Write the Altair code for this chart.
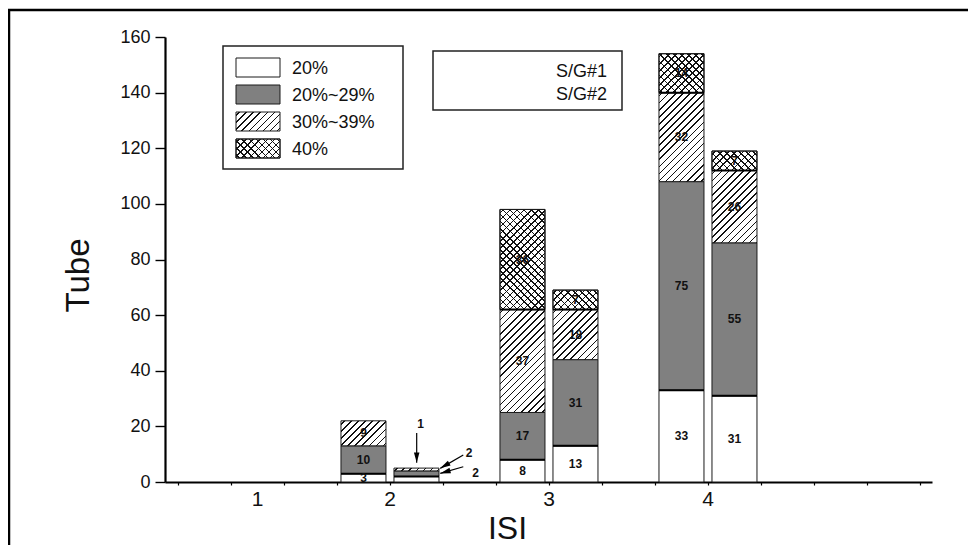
import math
import altair as alt

# ---------------- data ----------------
ISI_LEVELS = [2, 2, 3, 3, 4, 4]
SERIES = ["S/G#1", "S/G#2", "S/G#1", "S/G#2", "S/G#1", "S/G#2"]
CATEGORIES = ["20%", "20%~29%", "30%~39%", "40%"]
V_20 = [3, 2, 8, 13, 33, 31]
V_20_29 = [10, 2, 17, 31, 75, 55]
V_30_39 = [9, 1, 37, 18, 32, 26]
V_40 = [0, 0, 36, 7, 14, 7]
Y_TICKS = list(range(0, 161, 10))
X_TICK_LABELS = ["1", "2", "3", "4"]
X_LABEL_SIXTHS = [7, 12, 18, 24]   # tick (in sixths of a unit) under which each label sits
SERIES_NAMES = ["S/G#1", "S/G#2"]
# callouts for the small ISI 2 / S/G#2 bar
NOTE_TEXT = ["1", "2", "2"]
NOTE_TX = [2.193, 2.497, 2.539]
NOTE_TY = [20.7, 10.5, 3.1]
NOTE_AX0 = [2.168, 2.461, 2.461]
NOTE_AY0 = [17.6, 9.7, 5.5]
NOTE_AX1 = [2.168, 2.316, 2.316]
NOTE_AY1 = [6.9, 4.9, 3.1]
NOTE_ANGLE = [180, 240, 254]

# ---------------- layout / style ----------------
FONT = "Liberation Sans"
W, H = 767, 445
XDOM = [0.585, 5.409]
YDOM = [0, 160]
PX_X = W / (XDOM[1] - XDOM[0])
PX_Y = H / (YDOM[1] - YDOM[0])
HALF = 0.1415
OFF = 1.0 / 6.0
GRAY = "#808080"
LINE = "#111111"
CLEAR = "rgba(0,0,0,0)"


def hatch(w, h, direction, bg, spacing=5.0, lw=1.1):
    k = (1.0 / h + 1.0 / w) / (1.0 / h ** 2 + 1.0 / w ** 2)
    L = (w + h) / math.sqrt(2)
    if direction == "/":
        x1, y1, x2, y2 = 0, 0, k / h, k / w
    else:
        x1, y1, x2, y2 = 0, 1, k / h, 1 - k / w
    stops = [{"offset": 0, "color": bg}]
    half = lw / 2.0 / L
    c = spacing / 2.0
    while c < L:
        o = c / L
        a = round(max(0.0, o - half), 5)
        b = round(min(1.0, o + half), 5)
        stops += [{"offset": a, "color": bg}, {"offset": a, "color": LINE},
                  {"offset": b, "color": LINE}, {"offset": b, "color": bg}]
        c += spacing
    stops.append({"offset": 1, "color": bg})
    return {"gradient": "linear", "x1": x1, "y1": y1, "x2": x2, "y2": y2, "stops": stops}


def base_fill(cat, w, h):
    if cat == CATEGORIES[0]:
        return "#ffffff"
    if cat == CATEGORIES[1]:
        return GRAY
    return hatch(w, h, "/", "#ffffff")


seg_rows, cross_rows, sep_rows, label_rows = [], [], [], []
value_lists = [V_20, V_20_29, V_30_39, V_40]
for i in range(len(ISI_LEVELS)):
    center = ISI_LEVELS[i] + (-OFF if SERIES[i] == SERIES_NAMES[0] else OFF)
    xl, xr = center - HALF, center + HALF
    w_px = (xr - xl) * PX_X
    cum = 0
    segs = []
    for cat, vals in zip(CATEGORIES, value_lists):
        v = vals[i]
        if v <= 0:
            continue
        segs.append((cat, cum, cum + v, v))
        cum += v
    for j, (cat, y0, y1, v) in enumerate(segs):
        h_px = v * PX_Y
        seg_rows.append({"xl": xl, "xr": xr, "y0": y0, "y1": y1,
                         "f0": base_fill(cat, w_px, h_px)})
        if cat == CATEGORIES[3]:
            cross_rows.append({"xl": xl, "xr": xr, "y0": y0, "y1": y1,
                               "f1": hatch(w_px, h_px, "\\", CLEAR)})
        if j < len(segs) - 1 and cat in (CATEGORIES[0], CATEGORIES[2]):
            sep_rows.append({"xl": xl, "xr": xr, "y": y1})
        if not (ISI_LEVELS[i] == 2 and SERIES[i] == SERIES_NAMES[1]):
            label_rows.append({"xc": center, "ym": (y0 + y1) / 2.0, "t": str(v)})

xscale = alt.Scale(domain=XDOM, nice=False, zero=False)
yscale = alt.Scale(domain=YDOM, nice=False)

xaxis = alt.Axis(
    values=[k / 6.0 for k in range(4, 33)], labels=False,
    tickSize=3, tickWidth=1.2, domainWidth=2.2,
    title="ISI", titleFontSize=32, titleFontWeight="normal",
    titleX=342, titleY=56, titleBaseline="alphabetic", titleAlign="center", grid=False,
)
yaxis = alt.Axis(
    values=Y_TICKS, labelExpr="datum.value % 20 === 0 ? datum.label : ''",
    tickSize={"condition": {"test": "datum.value % 20 === 0", "value": 10}, "value": 5},
    tickWidth=1.4, domainWidth=2.2, labelFontSize=18, labelPadding=5, labelOverlap=False,
    title="Tube", titleFontSize=33, titleFontWeight="normal", titleX=-77, titleY=238,
    titleBaseline="alphabetic", titleAlign="center", grid=False,
)

bars = alt.Chart(alt.Data(values=seg_rows)).mark_rect(stroke="#1a1a1a", strokeWidth=1).encode(
    x=alt.X("xl:Q", scale=xscale, axis=xaxis),
    x2="xr:Q",
    y=alt.Y("y0:Q", scale=yscale, axis=yaxis),
    y2="y1:Q",
    fill=alt.Fill("f0:N", scale=None),
)
cross = alt.Chart(alt.Data(values=cross_rows)).mark_rect(stroke="#1a1a1a", strokeWidth=1).encode(
    x=alt.X("xl:Q", scale=xscale), x2="xr:Q",
    y=alt.Y("y0:Q", scale=yscale), y2="y1:Q",
    fill=alt.Fill("f1:N", scale=None),
)
seps = alt.Chart(alt.Data(values=sep_rows)).mark_rule(color="#000", strokeWidth=2).encode(
    x=alt.X("xl:Q", scale=xscale), x2="xr:Q", y=alt.Y("y:Q", scale=yscale),
)
labels = alt.Chart(alt.Data(values=label_rows)).mark_text(
    font=FONT, fontSize=12, fontWeight="bold", color="#111", baseline="middle"
).encode(x=alt.X("xc:Q", scale=xscale), y=alt.Y("ym:Q", scale=yscale), text="t:N")

# x tick labels (placed under their ticks through the x scale)
xlab_rows = [{"xv": s / 6.0, "t": t} for s, t in zip(X_LABEL_SIXTHS, X_TICK_LABELS)]
xlabels = alt.Chart(alt.Data(values=xlab_rows)).mark_text(
    font=FONT, fontSize=21, color="#111", baseline="top", align="center"
).encode(x=alt.X("xv:Q", scale=xscale), y=alt.value(H + 7), text="t:N")

note_rows = [
    {"t": NOTE_TEXT[k], "tx": NOTE_TX[k], "ty": NOTE_TY[k], "ax0": NOTE_AX0[k], "ay0": NOTE_AY0[k],
     "ax1": NOTE_AX1[k], "ay1": NOTE_AY1[k], "ang": NOTE_ANGLE[k]}
    for k in range(len(NOTE_TEXT))
]
note_base = alt.Chart(alt.Data(values=note_rows))
shafts = note_base.mark_rule(color="#000", strokeWidth=1.2).encode(
    x=alt.X("ax0:Q", scale=xscale), y=alt.Y("ay0:Q", scale=yscale), x2="ax1:Q", y2="ay1:Q",
)
heads = note_base.mark_point(
    shape="M0,0L0.45,1.7L-0.45,1.7Z", filled=True, color="#000", opacity=1, size=150, strokeWidth=0
).encode(
    x=alt.X("ax1:Q", scale=xscale), y=alt.Y("ay1:Q", scale=yscale), angle=alt.Angle("ang:Q", scale=None),
)
note_text = note_base.mark_text(font=FONT, fontSize=12, fontWeight="bold", color="#111", baseline="middle").encode(
    x=alt.X("tx:Q", scale=xscale), y=alt.Y("ty:Q", scale=yscale), text="t:N",
)

# ---------------- legends (pixel layout) ----------------
SW_X0, SW_X1, SW_H, ROW0, ROW_STEP = 71, 115, 19, 30.5, 27
sw_rows, swx_rows, lt_rows = [], [], []
for k, cat in enumerate(CATEGORIES):
    cy = ROW0 + k * ROW_STEP
    sw_rows.append({"px0": SW_X0, "px1": SW_X1, "py0": cy - SW_H / 2, "py1": cy + SW_H / 2,
                    "f0": base_fill(cat, SW_X1 - SW_X0, SW_H)})
    if cat == CATEGORIES[3]:
        swx_rows.append({"px0": SW_X0, "px1": SW_X1, "py0": cy - SW_H / 2, "py1": cy + SW_H / 2,
                         "f1": hatch(SW_X1 - SW_X0, SW_H, "\\", CLEAR)})
    lt_rows.append({"px": 127, "py": cy + 1, "t": cat})
sg_rows = [{"px": 442, "py": 34.5 + k * 23.5, "t": s} for k, s in enumerate(SERIES_NAMES)]
frame_rows = [{"px0": 58, "px1": 238, "py0": 9, "py1": 132},
              {"px0": 268, "px1": 457, "py0": 14, "py1": 73}]

PX = dict(scale=None, axis=None)
frames = alt.Chart(alt.Data(values=frame_rows)).mark_rect(filled=False, stroke="#222", strokeWidth=1.5).encode(
    x=alt.X("px0:Q", **PX), x2="px1:Q", y=alt.Y("py0:Q", **PX), y2="py1:Q",
)
swatches = alt.Chart(alt.Data(values=sw_rows)).mark_rect(stroke="#1a1a1a", strokeWidth=1).encode(
    x=alt.X("px0:Q", **PX), x2="px1:Q", y=alt.Y("py0:Q", **PX), y2="py1:Q",
    fill=alt.Fill("f0:N", scale=None),
)
swatch_x = alt.Chart(alt.Data(values=swx_rows)).mark_rect(stroke="#1a1a1a", strokeWidth=1).encode(
    x=alt.X("px0:Q", **PX), x2="px1:Q", y=alt.Y("py0:Q", **PX), y2="py1:Q",
    fill=alt.Fill("f1:N", scale=None),
)
leg_text = alt.Chart(alt.Data(values=lt_rows)).mark_text(
    font=FONT, fontSize=18, color="#111", align="left", baseline="middle"
).encode(x=alt.X("px:Q", **PX), y=alt.Y("py:Q", **PX), text="t:N")
sg_text = alt.Chart(alt.Data(values=sg_rows)).mark_text(
    font=FONT, fontSize=18, color="#111", align="right", baseline="middle"
).encode(x=alt.X("px:Q", **PX), y=alt.Y("py:Q", **PX), text="t:N")

outer = alt.Chart(alt.Data(values=[{"a": 0}])).mark_rect(
    filled=False, stroke="#000", strokeWidth=2.5, clip=False
).encode(x=alt.value(-156), x2=alt.value(1200), y=alt.value(-27), y2=alt.value(900))

chart = alt.layer(
    bars, cross, seps, labels, xlabels, shafts, heads, note_text,
    frames, swatches, swatch_x, leg_text, sg_text, outer,
).properties(
    width=W, height=H,
    padding={"left": 157, "top": 29, "right": 36, "bottom": 63},
    autosize=alt.AutoSizeParams(type="none"),
    background="white",
).configure_view(stroke=None).configure_axis(
    labelFont=FONT, titleFont=FONT, domainColor="#000", tickColor="#000",
    labelColor="#111", titleColor="#111",
)

chart.save("out.html", embed_options={"renderer": "svg", "actions": False})
